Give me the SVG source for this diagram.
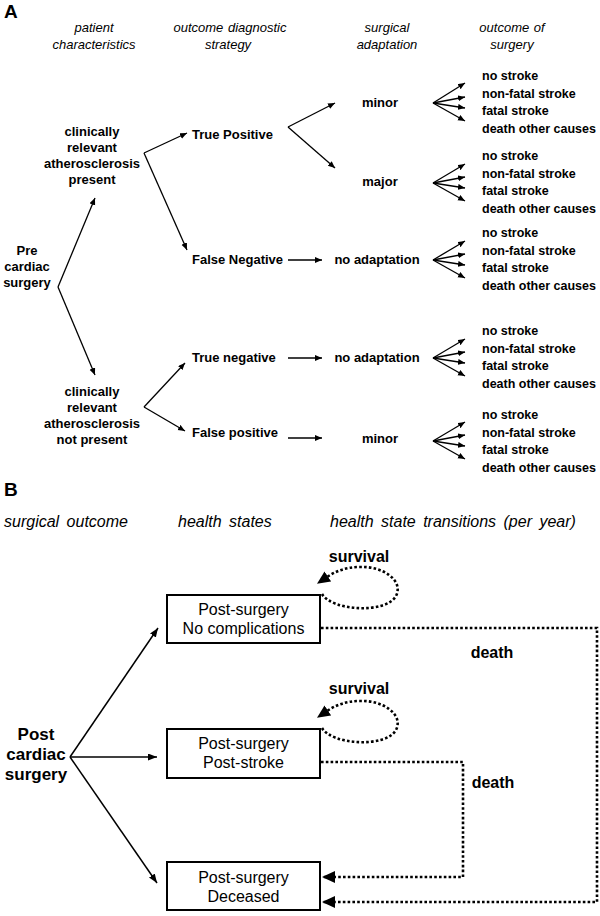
<svg xmlns="http://www.w3.org/2000/svg" width="600" height="916" viewBox="0 0 600 916">
<style>
text{font-family:"Liberation Sans",Arial,sans-serif;fill:#000}
.h{font-size:13px;font-style:italic;text-anchor:middle;word-spacing:1px}
.n{font-size:13px;font-weight:bold;text-anchor:middle}
.o{font-size:12.5px;font-weight:bold}
.hb{font-size:16px;font-style:italic;word-spacing:3px}
.bx{font-size:16px;text-anchor:middle}
.lb{font-size:16px;font-weight:bold;text-anchor:middle}
.ln{stroke:#000;stroke-width:1.3;fill:none;marker-end:url(#a)}
.lb2{stroke:#000;stroke-width:1.5;fill:none;marker-end:url(#b)}
.dt{stroke:#000;stroke-width:2.6;fill:none;stroke-dasharray:2.6 2.2}
rect{fill:#fff;stroke:#000;stroke-width:2}
</style>
<defs>
<marker id="a" markerUnits="userSpaceOnUse" markerWidth="8" markerHeight="7" refX="7" refY="3" orient="auto"><path d="M0,0 L7,3 L0,6 z" fill="#000"/></marker>
<marker id="b" markerUnits="userSpaceOnUse" markerWidth="10" markerHeight="8" refX="9" refY="3.5" orient="auto"><path d="M0,0 L9,3.5 L0,7 z" fill="#000"/></marker>
<marker id="d" markerUnits="userSpaceOnUse" markerWidth="14" markerHeight="12" refX="13" refY="6" orient="auto"><path d="M0,0 L13,6 L0,12 z" fill="#000"/></marker>
<marker id="dl" markerUnits="userSpaceOnUse" markerWidth="14" markerHeight="12" refX="1" refY="6" orient="auto"><path d="M0,0 L13,6 L0,12 z" fill="#000"/></marker>
</defs>

<!-- Panel A -->
<text x="4" y="18" style="font-size:19px;font-weight:bold">A</text>
<g id="headersA">
<text class="h" x="94" y="32">patient</text>
<text class="h" x="94" y="49">characteristics</text>
<text class="h" x="230" y="32">outcome diagnostic</text>
<text class="h" x="228" y="49">strategy</text>
<text class="h" x="387" y="32">surgical</text>
<text class="h" x="387" y="49">adaptation</text>
<text class="h" x="512" y="32">outcome of</text>
<text class="h" x="512" y="49">surgery</text>
</g>

<g id="pre"><text class="n" x="27" y="255">Pre</text><text class="n" x="27" y="271">cardiac</text><text class="n" x="27" y="287">surgery</text></g>
<g id="present"><text class="n" x="92" y="136">clinically</text><text class="n" x="92" y="152">relevant</text><text class="n" x="92" y="168">atherosclerosis</text><text class="n" x="92" y="184">present</text></g>
<g id="notpresent"><text class="n" x="92" y="396">clinically</text><text class="n" x="92" y="412">relevant</text><text class="n" x="92" y="428">atherosclerosis</text><text class="n" x="92" y="444">not present</text></g>
<g id="tp"><text class="n" x="192" y="139" style="text-anchor:start">True Positive</text></g>
<g id="fn"><text class="n" x="192" y="264" style="text-anchor:start">False Negative</text></g>
<g id="tn"><text class="n" x="192" y="362" style="text-anchor:start">True negative</text></g>
<g id="fp"><text class="n" x="192" y="437" style="text-anchor:start">False positive</text></g>
<g id="minor1"><text class="n" x="380" y="107">minor</text></g>
<g id="major"><text class="n" x="380" y="186">major</text></g>
<g id="noadapt1"><text class="n" x="377" y="264">no adaptation</text></g>
<g id="noadapt2"><text class="n" x="377" y="362">no adaptation</text></g>
<g id="minor2"><text class="n" x="380" y="443">minor</text></g>

<g id="out1"><text class="o" x="482" y="80">no stroke</text><text class="o" x="482" y="97.5">non-fatal stroke</text><text class="o" x="482" y="115">fatal stroke</text><text class="o" x="482" y="132.5">death other causes</text></g>
<g id="out2"><text class="o" x="482" y="160">no stroke</text><text class="o" x="482" y="177.5">non-fatal stroke</text><text class="o" x="482" y="195">fatal stroke</text><text class="o" x="482" y="212.5">death other causes</text></g>
<g id="out3"><text class="o" x="482" y="237">no stroke</text><text class="o" x="482" y="254.5">non-fatal stroke</text><text class="o" x="482" y="272">fatal stroke</text><text class="o" x="482" y="289.5">death other causes</text></g>
<g id="out4"><text class="o" x="482" y="335">no stroke</text><text class="o" x="482" y="352.5">non-fatal stroke</text><text class="o" x="482" y="370">fatal stroke</text><text class="o" x="482" y="387.5">death other causes</text></g>
<g id="out5"><text class="o" x="482" y="419">no stroke</text><text class="o" x="482" y="436.5">non-fatal stroke</text><text class="o" x="482" y="454">fatal stroke</text><text class="o" x="482" y="471.5">death other causes</text></g>

<g id="connectorsA">
<path class="ln" d="M58,287 L95,198"/>
<path class="ln" d="M58,287 L95,375"/>
<path class="ln" d="M144,153 L187,133"/>
<path class="ln" d="M144,153 L187,250"/>
<path class="ln" d="M144,407 L185,363"/>
<path class="ln" d="M144,407 L185,431"/>
<path class="ln" d="M288,127 L335,103"/>
<path class="ln" d="M288,127 L335,168"/>
<path class="ln" d="M288,260 L322,260"/>
<path class="ln" d="M288,358 L322,358"/>
<path class="ln" d="M288,438 L322,438"/>
<path class="ln" d="M433,103 L465,83"/><path class="ln" d="M433,103 L465,97"/><path class="ln" d="M433,103 L465,108"/><path class="ln" d="M433,103 L465,121"/>
<path class="ln" d="M433,183 L465,164"/><path class="ln" d="M433,183 L465,177"/><path class="ln" d="M433,183 L465,188"/><path class="ln" d="M433,183 L465,201"/>
<path class="ln" d="M433,260 L465,241"/><path class="ln" d="M433,260 L465,254"/><path class="ln" d="M433,260 L465,265"/><path class="ln" d="M433,260 L465,278"/>
<path class="ln" d="M433,358 L465,339"/><path class="ln" d="M433,358 L465,352"/><path class="ln" d="M433,358 L465,363"/><path class="ln" d="M433,358 L465,376"/>
<path class="ln" d="M433,441 L465,422"/><path class="ln" d="M433,441 L465,435"/><path class="ln" d="M433,441 L465,446"/><path class="ln" d="M433,441 L465,459"/>
</g>

<!-- Panel B -->
<text x="4" y="496" style="font-size:19px;font-weight:bold">B</text>
<g id="headersB">
<text class="hb" x="4" y="527">surgical outcome</text>
<text class="hb" x="178" y="527">health states</text>
<text class="hb" x="330" y="527">health state transitions (per year)</text>
</g>

<g id="post"><text class="lb" x="36" y="740" style="font-size:17px">Post</text><text class="lb" x="36" y="760" style="font-size:17px">cardiac</text><text class="lb" x="36" y="780" style="font-size:17px">surgery</text></g>
<g id="box1"><rect x="167" y="595" width="153" height="48"/><text class="bx" x="243.5" y="615">Post-surgery</text><text class="bx" x="243.5" y="634">No complications</text></g>
<g id="box2"><rect x="167" y="729" width="153" height="49"/><text class="bx" x="243.5" y="749">Post-surgery</text><text class="bx" x="243.5" y="768">Post-stroke</text></g>
<g id="box3"><rect x="167" y="862" width="153" height="48"/><text class="bx" x="243.5" y="883">Post-surgery</text><text class="bx" x="243.5" y="902">Deceased</text></g>

<g id="labelsB">
<text class="lb" x="359" y="562">survival</text>
<text class="lb" x="359" y="694">survival</text>
<text class="lb" x="492" y="658">death</text>
<text class="lb" x="493" y="788">death</text>
</g>

<g id="connectorsB">
<path class="lb2" d="M70,757 L158,628"/>
<path class="lb2" d="M70,757 L157,757"/>
<path class="lb2" d="M70,757 L157,883"/>
<path class="dt" d="M322,594 C332,611 386,614 396,596 C404,580 382,566 360,567 C346,567 336,571 327,577" marker-end="url(#dl)"/>
<path class="dt" d="M322,728 C332,745 386,748 396,730 C404,714 382,700 360,701 C346,701 336,705 327,711" marker-end="url(#dl)"/>
<path class="dt" d="M321,628 H597 V902 H322" marker-end="url(#d)"/>
<path class="dt" d="M321,762 H463 V877 H322" marker-end="url(#d)"/>
</g>
</svg>
